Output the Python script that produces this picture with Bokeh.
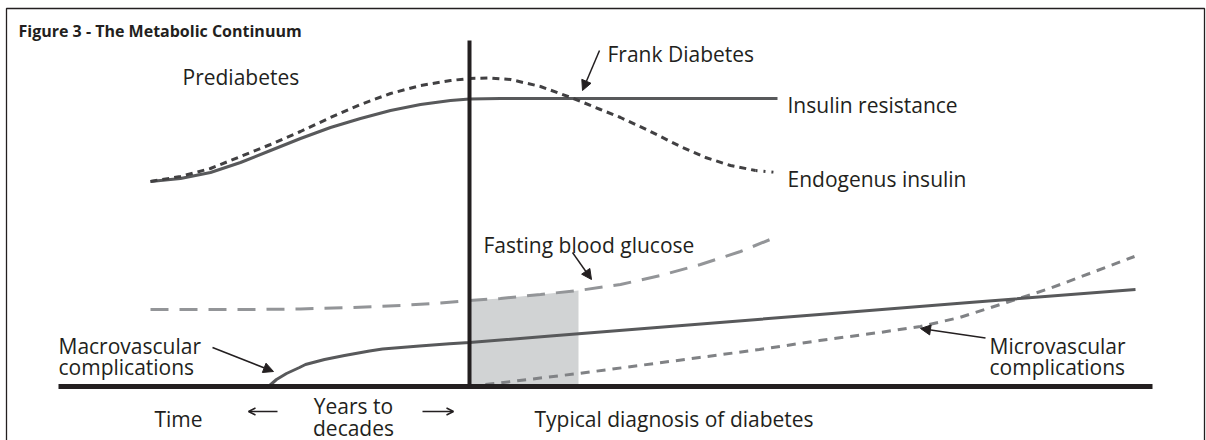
from bokeh.plotting import figure
from bokeh.models import Range1d, Arrow, NormalHead, OpenHead, ColumnDataSource
from bokeh.core.properties import value
from bokeh.embed import file_html
from bokeh.resources import INLINE

# ---- data (x: time, diagnosis at 0; y: level, baseline at 0) ----
ir_x = [-31.9, -28.9, -25.9, -22.9, -19.9, -16.9, -13.9, -10.9, -7.9, -4.9, -1.9, 0.0, 3.1, 30.8]
ir_y = [20.5, 20.8, 21.4, 22.4, 23.6, 24.8, 25.9, 26.8, 27.6, 28.2, 28.6, 28.75, 28.8, 28.8]

endo_x = [-31.9, -28.9, -25.9, -22.9, -19.9, -16.9, -13.9, -10.9, -7.9, -4.9, -1.9, 0.0,
          2.1, 4.1, 7.1, 10.4, 13.1, 15.1, 18.1, 21.1, 23.6, 26.1, 28.6, 30.8]
endo_y = [20.5, 21.0, 21.8, 23.0, 24.2, 25.5, 26.9, 28.2, 29.3, 30.1, 30.6, 30.8,
          30.85, 30.7, 30.0, 28.8, 27.7, 26.9, 25.5, 24.0, 22.9, 22.1, 21.6, 21.4]

fbg_x = [-31.9, -21.9, -16.9, -11.9, -6.9, -2.9, 0.0, 3.1, 7.1, 10.9, 15.1, 19.1, 23.1, 27.1, 30.8]
fbg_y = [7.7, 7.7, 7.75, 7.9, 8.1, 8.35, 8.6, 8.8, 9.2, 9.6, 10.2, 11.1, 12.2, 13.5, 15.0]

macro_x = [-20.1, -19.3, -18.3, -17.0, -16.4, -14.5, -12.5, -10.0, -8.7, -5.0, -2.0, 0.0, 8.1, 20.0, 35.0, 50.0, 66.6]
macro_y = [0.0, 0.7, 1.3, 1.9, 2.2, 2.7, 3.1, 3.55, 3.75, 4.05, 4.28, 4.4, 5.05, 6.0, 7.2, 8.4, 9.7]

micro_x = [0.0, 5.0, 10.9, 17.0, 23.0, 29.0, 35.0, 41.0, 45.1, 49.0, 53.7, 58.0, 62.0, 66.5]
micro_y = [0.0, 0.6, 1.3, 2.1, 2.9, 3.7, 4.6, 5.4, 6.0, 6.9, 8.4, 9.8, 11.3, 13.0]

diagnosis_x = 0.0
diagnosis_top = 34.6
time_start, time_end = -41.1, 68.3
shade_from, shade_to = 6, 10   # index range in fbg arrays (diagnosis .. +10.9)

title = "Figure 3 - The Metabolic Continuum"
label_text = ["Prediabetes", "Frank Diabetes", "Insulin resistance", "Endogenus insulin",
              "Fasting blood glucose", "Macrovascular", "complications", "Microvascular",
              "complications", "Time", "Years to", "decades", "Typical diagnosis of diabetes"]
label_x = [-28.7, 13.8, 31.8, 31.8, 1.4, -41.1, -41.1, 52.0, 52.0, -31.5, -11.6, -11.6, 6.5]
label_y = [31.0, 33.3, 28.2, 20.8, 14.2, 4.1, 2.0, 4.1, 2.0, -3.2, -1.9, -4.1, -3.2]
label_align = ["left"] * 10 + ["center", "center", "left"]

arrow_x0 = [13.0, 10.3, -25.7, 51.6]
arrow_y0 = [33.6, 13.4, 3.9, 4.85]
arrow_x1 = [11.3, 12.2, -19.6, 45.1]
arrow_y1 = [29.6, 10.7, 1.5, 5.8]

span_x0 = [-19.2, -4.7]
span_x1 = [-22.1, -1.6]
span_y = [-2.5, -2.5]

# ---- figure ----
W, H = 1206, 440
x_lo, x_hi = -46.9, 73.7
y_lo, y_hi = -5.4, 38.6

p = figure(width=W, height=H, x_range=Range1d(x_lo, x_hi), y_range=Range1d(y_lo, y_hi),
           output_backend="svg", toolbar_location=None, min_border=0)
p.xaxis.visible = False
p.yaxis.visible = False
p.grid.visible = False
p.outline_line_color = None
p.background_fill_color = "white"
p.border_fill_color = "white"

INK = "#231f20"
FONT = value("Open Sans")

# frame border (left, top, right)
bx0, bx1, by1 = -46.3, 73.5, 37.8
p.line([bx0, bx0, bx1, bx1], [y_lo, by1, by1, y_lo], line_color=INK, line_width=1.3)

# shaded window after diagnosis
p.varea(x=fbg_x[shade_from:shade_to], y1=0, y2=fbg_y[shade_from:shade_to], color="#d1d3d4")

# curves
p.line(fbg_x, fbg_y, line_color="#939598", line_width=3, line_dash="18 11")
p.line(micro_x, micro_y, line_color="#808285", line_width=3, line_dash="9 7")
p.line(macro_x, macro_y, line_color="#58595b", line_width=3)
p.line(ir_x, ir_y, line_color="#58595b", line_width=3)
p.line(endo_x[:-1], endo_y[:-1], line_color="#414042", line_width=3, line_dash="7 5")
p.line(endo_x[-2:], endo_y[-2:], line_color="#414042", line_width=3, line_dash="2 6")

# axes of the diagram
p.line([time_start, time_end], [0, 0], line_color=INK, line_width=5)
p.line([diagnosis_x, diagnosis_x], [0, diagnosis_top], line_color=INK, line_width=4)

# labels
src = ColumnDataSource(dict(x=label_x, y=label_y, text=label_text, align=label_align))
p.text(x="x", y="y", text="text", source=src, text_align="align", text_baseline="alphabetic",
       text_font=FONT, text_font_size=value("21px"), text_color=INK)
p.text(x=[-45.1], y=[35.6], text=[title], text_baseline="alphabetic",
       text_font=FONT, text_font_size=value("16px"), text_font_style="bold", text_color=INK)

# pointer arrows
asrc = ColumnDataSource(dict(x0=arrow_x0, y0=arrow_y0, x1=arrow_x1, y1=arrow_y1))
p.add_layout(Arrow(x_start="x0", y_start="y0", x_end="x1", y_end="y1", source=asrc,
                   line_color=INK, line_width=1.5,
                   end=NormalHead(size=10, fill_color=INK, line_color=INK, line_width=1)))
ssrc = ColumnDataSource(dict(x0=span_x0, y0=span_y, x1=span_x1, y1=span_y))
p.add_layout(Arrow(x_start="x0", y_start="y0", x_end="x1", y_end="y1", source=ssrc,
                   line_color=INK, line_width=1.5,
                   end=OpenHead(size=7, line_color=INK, line_width=1.5)))

open("out.html", "w").write(file_html(p, INLINE))
